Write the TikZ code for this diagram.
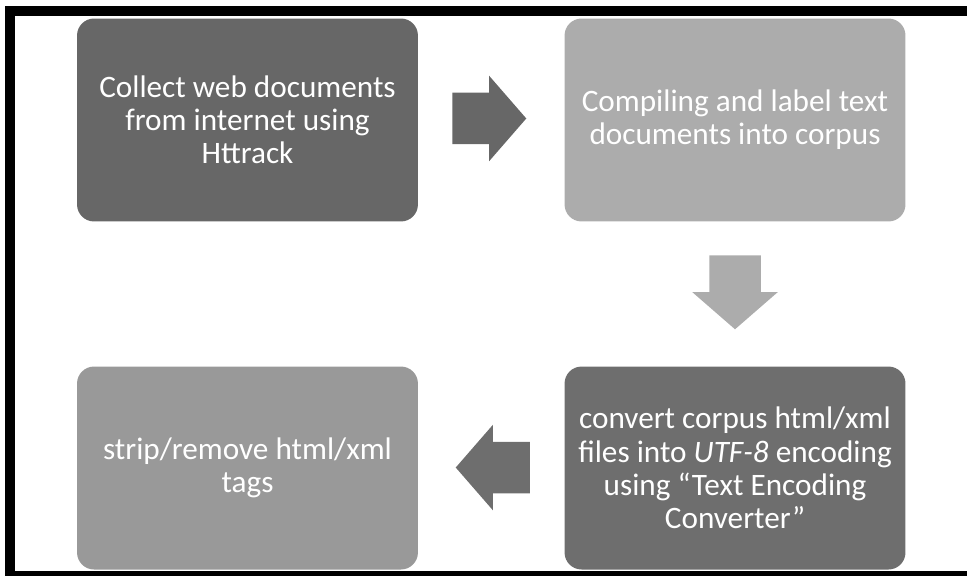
\documentclass[tikz,border=0pt]{standalone}
\usepackage{fontspec}
\setmainfont{Carlito}
\usetikzlibrary{shapes.arrows}
\definecolor{stepdark}{HTML}{676767}
\definecolor{steplight}{HTML}{ACACAC}
\definecolor{stepmid}{HTML}{999999}
\definecolor{stepdeep}{HTML}{6E6E6E}
\begin{document}
\begin{tikzpicture}[
  font=\fontsize{23.5}{25}\selectfont,
  box/.style={rectangle, rounded corners=0.45cm, minimum width=9.02cm, minimum height=5.37cm, align=center, text=white},
  blockarrow/.style={single arrow, inner xsep=0pt, inner ysep=0.674cm, minimum height=1.958cm, single arrow head extend=0.45cm, single arrow tip angle=98, anchor=tail},
  downarrow/.style={blockarrow, shape border rotate=270, inner xsep=0.674cm, inner ysep=0pt},
]
\useasboundingbox (0,0) rectangle (25.585,15.24);
% frame
\fill[black] (0.132,14.817) rectangle (25.585,15.081);
\fill[black] (0.132,0) rectangle (0.397,15.081);
\fill[black] (0.132,0) rectangle (25.585,0.132);

\node[box, fill=stepdark]  (collect) at (6.548, 12.065) {Collect web documents\\from internet using\\Httrack};
\node[box, fill=steplight] (compile) at (19.447, 12.065) {Compiling and label text\\documents into corpus};
\node[box, fill=stepdeep]  (convert) at (19.447, 2.857) {convert corpus html/xml\\files into \textit{UTF-8} encoding\\using “Text Encoding\\Converter”};
\node[box, fill=stepmid]   (strip)   at (6.548, 2.857) {strip/remove html/xml\\tags};

\node[blockarrow, fill=stepdark] (arr1) at (11.959, 12.105) {};
\node[downarrow, fill=steplight] (arr2) at (19.447, 8.493) {};
\node[blockarrow, fill=stepdeep, shape border rotate=180] (arr3) at (14.023, 2.87) {};
\end{tikzpicture}
\end{document}
